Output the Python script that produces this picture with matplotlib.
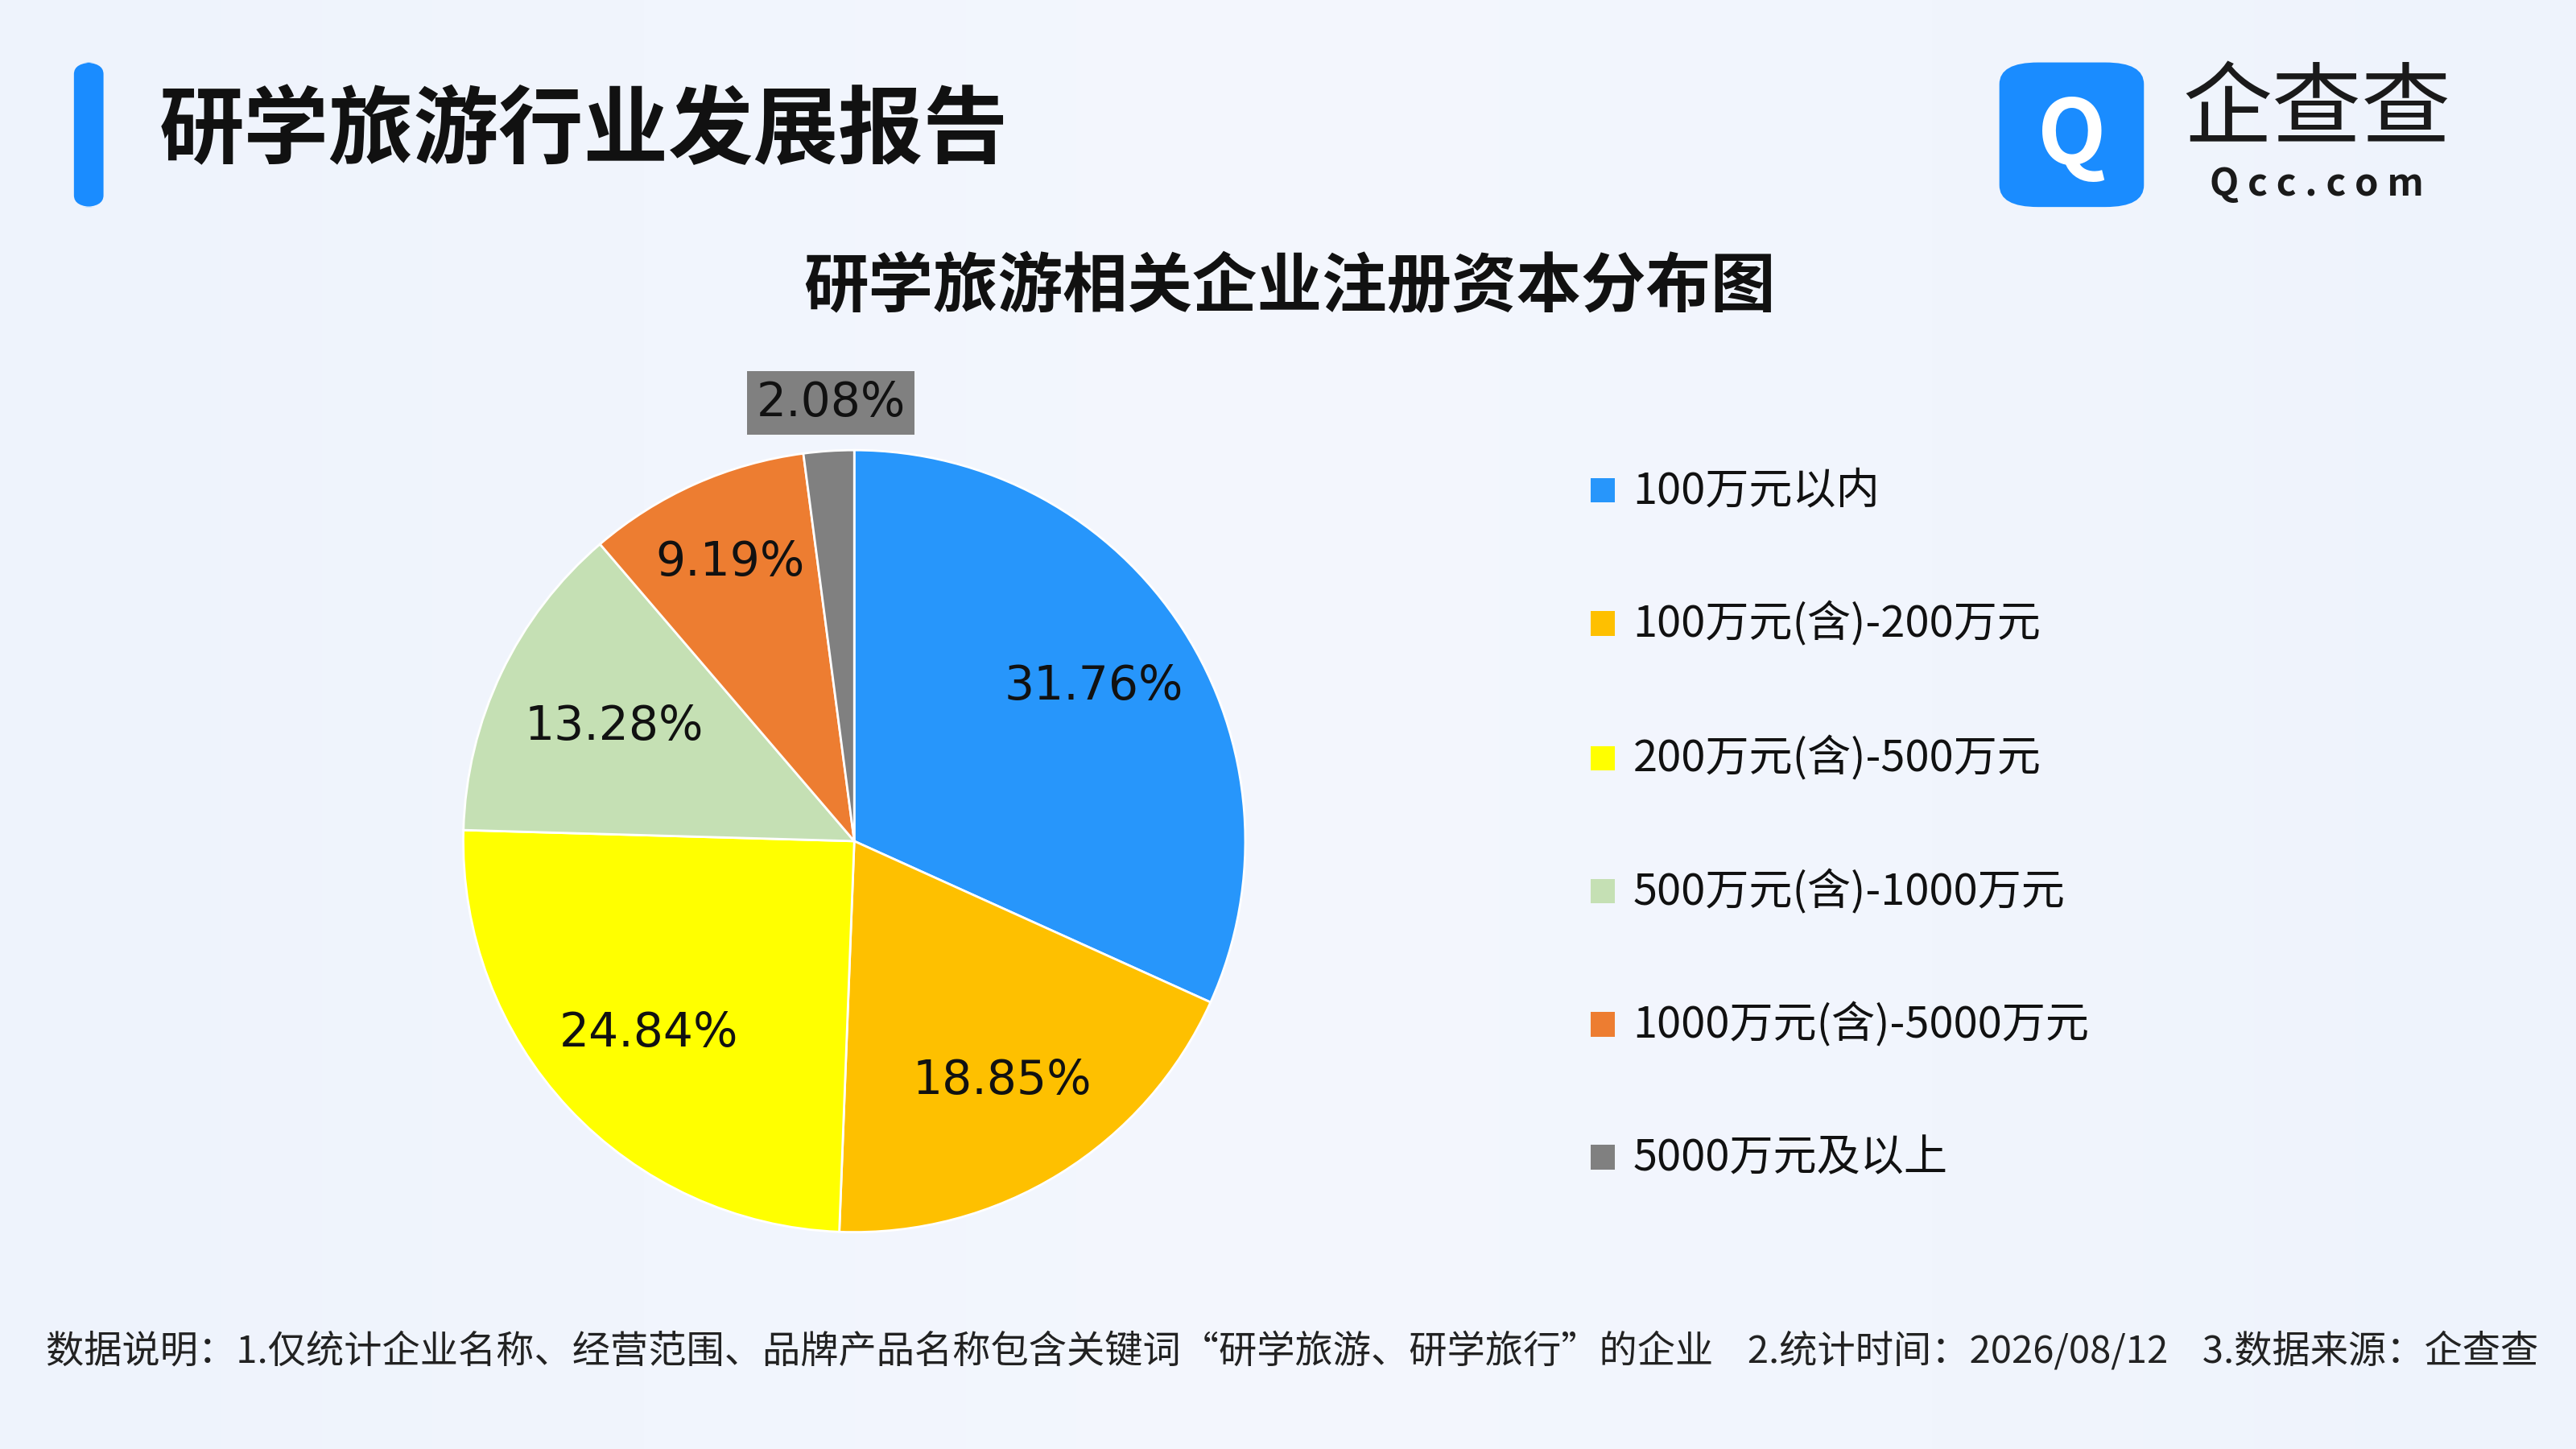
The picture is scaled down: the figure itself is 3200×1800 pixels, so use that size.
import numpy as np
import matplotlib.pyplot as plt
from matplotlib.patches import FancyBboxPatch, Rectangle

plt.rcParams['font.family'] = ['Noto Sans CJK SC', 'DejaVu Sans']

labels = ['100万元以内', '100万元(含)-200万元', '200万元(含)-500万元',
          '500万元(含)-1000万元', '1000万元(含)-5000万元', '5000万元及以上']
values = [31.76, 18.85, 24.84, 13.28, 9.19, 2.08]
colors = ['#2796fb', '#fec000', '#ffff00', '#c5e0b4', '#ed7d31', '#808080']

W, H = 1568.0, 882.0
fig = plt.figure(figsize=(16, 9), dpi=200)

# background
bg = fig.add_axes([0, 0, 1, 1])
bg.set_axis_off()
grad = np.linspace(0, 1, 256).reshape(1, -1)
bg.imshow(grad, extent=[0, 1, 0, 1], aspect='auto', cmap=plt.matplotlib.colors.LinearSegmentedColormap.from_list('bg', ['#eef3fc', '#f4f7fe', '#eef3fc']))
bg.set_xlim(0, 1); bg.set_ylim(0, 1)

def fx(x): return x / W
def fy(y): return 1 - y / H

# header bar
bg.add_patch(FancyBboxPatch((fx(45), fy(126)), fx(18), 88 / H, boxstyle='round,pad=0,rounding_size=0.008',
                            fc='#1a8cff', ec='none', transform=bg.transAxes))
fig.text(fx(97), fy(80), '研学旅游行业发展报告', fontsize=38, fontweight='bold', va='center', ha='left', color='#111111')

# logo
bg.add_patch(FancyBboxPatch((fx(1217), fy(126)), fx(88), 88 / H, boxstyle='round,pad=0,rounding_size=0.015',
                            fc='#1a8cff', ec='none', transform=bg.transAxes))
fig.text(fx(1261), fy(84), 'Q', fontsize=40, fontweight='bold', color='white', ha='center', va='center')
fig.text(fx(1410), fy(68), '企查查', fontsize=40, color='#1a1a1a', ha='center', va='center')
fig.text(fx(1410), fy(112), 'Q c c . c o m', fontsize=17, fontweight='bold', color='#1a1a1a', ha='center', va='center')

fig.text(fx(785), fy(175), '研学旅游相关企业注册资本分布图', fontsize=29, fontweight='bold', ha='center', va='center', color='#111111')

# pie
cx, cy, r = 520, 512, 238
ax = fig.add_axes([fx(cx - r), fy(cy + r), 2 * r / W, 2 * r / H])
wedges, _ = ax.pie(values, colors=colors, startangle=90, counterclock=False,
                   wedgeprops=dict(edgecolor='white', linewidth=1))
ax.set_xlim(-1, 1); ax.set_ylim(-1, 1)
ax.set_aspect('auto')
dists = [0.73, 0.72, 0.72, 0.68, 0.78, 1.12]
ang = 90.0
for v, d in zip(values, dists):
    mid = ang - v * 3.6 / 2
    ang -= v * 3.6
    x, y = d * np.cos(np.radians(mid)), d * np.sin(np.radians(mid))
    if d > 1:
        ax.text(-0.06, 1.12, f'{v:.2f}%', fontsize=21, ha='center', va='center', color='#111111',
                family='DejaVu Sans', bbox=dict(fc='#808080', ec='none', pad=4), clip_on=False)
    else:
        ax.text(x, y, f'{v:.2f}%', fontsize=21, ha='center', va='center', color='#111111', family='DejaVu Sans')

# legend
ys = [299, 380, 462, 543, 624, 705]
for lab, c, y in zip(labels, colors, ys):
    bg.add_patch(Rectangle((fx(968), fy(y + 7)), fx(15), 15 / H, fc=c, ec='none', transform=bg.transAxes))
    fig.text(fx(994), fy(y), lab, fontsize=19.5, va='center', ha='left', color='#111111')

fig.text(fx(28), fy(823), '数据说明：1.仅统计企业名称、经营范围、品牌产品名称包含关键词“研学旅游、研学旅行”的企业    '
         '2.统计时间：2026/08/12    3.数据来源：企查查', fontsize=17, va='center', ha='left', color='#222222')

fig.savefig('out.png', dpi=200)
